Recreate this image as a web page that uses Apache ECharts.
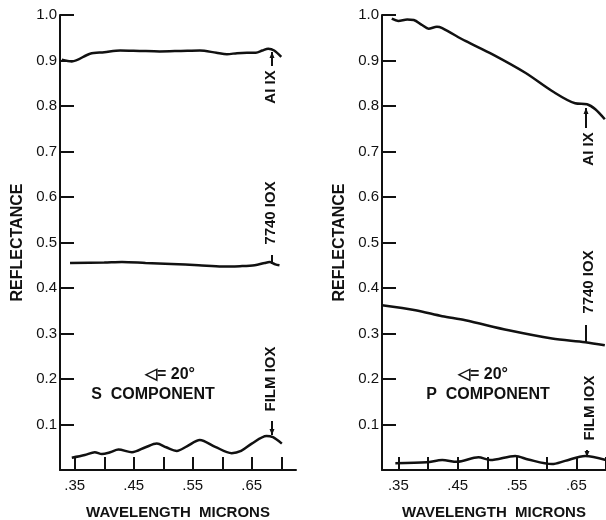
<!DOCTYPE html>
<html>
<head>
<meta charset="utf-8">
<script src="https://cdn.jsdelivr.net/npm/echarts@6/dist/echarts.min.js"></script>
<style>
  html, body { margin: 0; padding: 0; background: #fff; }
  #chart { width: 606px; height: 520px; }
</style>
</head>
<body>
<div id="chart"></div>
<script>
// wavelength (microns), reflectance
const sAl = [[0.328, 0.902], [0.345, 0.898], [0.376, 0.915], [0.40, 0.918], [0.427, 0.922], [0.46, 0.921],
  [0.494, 0.920], [0.53, 0.921], [0.562, 0.922], [0.59, 0.917], [0.608, 0.914], [0.625, 0.916],
  [0.642, 0.917], [0.657, 0.917], [0.668, 0.922], [0.678, 0.926], [0.688, 0.922], [0.70, 0.908]];
const sGlass = [[0.342, 0.455], [0.40, 0.456], [0.43, 0.457], [0.47, 0.455], [0.514, 0.453], [0.56, 0.450],
  [0.60, 0.447], [0.63, 0.448], [0.655, 0.450], [0.672, 0.455], [0.68, 0.457], [0.69, 0.452], [0.697, 0.450]];
const sFilm = [[0.345, 0.027], [0.367, 0.033], [0.384, 0.039], [0.396, 0.035], [0.41, 0.039], [0.424, 0.045],
  [0.447, 0.039], [0.47, 0.050], [0.489, 0.058], [0.505, 0.050], [0.523, 0.042], [0.54, 0.052],
  [0.562, 0.066], [0.588, 0.051], [0.616, 0.037], [0.632, 0.042], [0.650, 0.058], [0.675, 0.075],
  [0.686, 0.072], [0.701, 0.058]];

const pAl = [[0.339, 0.992], [0.35, 0.987], [0.365, 0.990], [0.376, 0.989], [0.39, 0.978], [0.401, 0.970],
  [0.415, 0.974], [0.424, 0.971], [0.463, 0.943], [0.508, 0.914], [0.564, 0.873], [0.609, 0.833],
  [0.648, 0.806], [0.668, 0.804], [0.682, 0.793], [0.698, 0.771]];
const pGlass = [[0.3226, 0.362], [0.379, 0.351], [0.424, 0.338], [0.463, 0.329], [0.536, 0.307],
  [0.609, 0.289], [0.665, 0.281], [0.698, 0.274]];
const pFilm = [[0.345, 0.015], [0.398, 0.017], [0.424, 0.022], [0.449, 0.018], [0.485, 0.028], [0.505, 0.022],
  [0.547, 0.031], [0.569, 0.023], [0.609, 0.013], [0.631, 0.020], [0.665, 0.031], [0.70, 0.022]];

const xTicks = [0.35, 0.40, 0.45, 0.50, 0.55, 0.60, 0.65, 0.70];
const xLabels = [0.35, 0.45, 0.55, 0.65];
const yTicks = [0.1, 0.2, 0.3, 0.4, 0.5, 0.6, 0.7, 0.8, 0.9, 1.0];

const ink = '#111';
const font = 'Liberation Sans';

const chart = echarts.init(document.getElementById('chart'));

function xAxis(gridIndex, min, max) {
  return {
    type: 'value', gridIndex, min, max,
    name: 'WAVELENGTH  MICRONS', nameLocation: 'middle', nameGap: 35,
    nameTextStyle: { color: ink, fontFamily: font, fontSize: 15, fontWeight: 'bold' },
    splitLine: { show: false },
    axisLine: { lineStyle: { color: ink, width: 2 } },
    axisTick: { customValues: xTicks, inside: true, length: 13, lineStyle: { color: ink, width: 2 } },
    axisLabel: {
      customValues: xLabels, color: ink, fontFamily: font, fontSize: 15, margin: 8,
      formatter: v => '.' + Math.round(v * 100),
    },
  };
}

function yAxis(gridIndex) {
  return {
    type: 'value', gridIndex, min: 0, max: 1.0,
    name: 'REFLECTANCE', nameLocation: 'middle', nameGap: 34,
    nameTextStyle: { color: ink, fontFamily: font, fontSize: 16, fontWeight: 'bold' },
    splitLine: { show: false },
    axisLine: { lineStyle: { color: ink, width: 2 } },
    axisTick: { customValues: yTicks, inside: true, length: 14, lineStyle: { color: ink, width: 2 } },
    axisLabel: {
      customValues: yTicks, color: ink, fontFamily: font, fontSize: 15, margin: 3,
      formatter: v => v.toFixed(1),
    },
  };
}

function curve(data, idx) {
  return {
    type: 'line', data, xAxisIndex: idx, yAxisIndex: idx,
    showSymbol: false, smooth: 0.3,
    lineStyle: { color: ink, width: 2.5 },
  };
}

// rotated curve labels with leader lines
function vText(text, x, y) {
  return {
    type: 'text', x, y, rotation: Math.PI / 2,
    style: { text, fill: ink, font: 'bold 15px ' + font, align: 'center', verticalAlign: 'middle' },
  };
}
function leader(x, y1, y2, arrow) {
  const els = [{ type: 'line', shape: { x1: x, y1, x2: x, y2 }, style: { stroke: ink, lineWidth: 2 } }];
  if (arrow) {
    const d = y2 < y1 ? 1 : -1;
    els.push({ type: 'polygon', shape: { points: [[x, y2], [x - 2.5, y2 + 6 * d], [x + 2.5, y2 + 6 * d]] }, style: { fill: ink } });
  }
  return els;
}
function plainText(text, x, y, size) {
  return {
    type: 'text', x, y,
    style: { text, fill: ink, font: 'bold ' + size + 'px ' + font, align: 'center', verticalAlign: 'middle' },
  };
}

const graphics = [
  vText('AI IX', 271, 87), ...leader(272, 66, 52, true),
  vText('7740 IOX', 271, 213), ...leader(272, 255, 264, false),
  vText('FILM IOX', 271, 379), ...leader(272, 421, 435, true),
  vText('AI IX', 589, 149), ...leader(586, 128, 108, true),
  vText('7740 IOX', 589, 282), ...leader(586, 325, 342, false),
  vText('FILM IOX', 590, 408), ...leader(587, 450, 457, true),
  plainText('\u25C1= 20\u00B0', 170, 375, 16),
  plainText('S  COMPONENT', 153, 395, 16),
  plainText('\u25C1= 20\u00B0', 483, 375, 16),
  plainText('P  COMPONENT', 488, 395, 16),
];

chart.setOption({
  backgroundColor: '#fff',
  animation: false,
  grid: [
    { left: 60, top: 15, width: 236, bottom: 50, outerBoundsMode: 'none' },
    { left: 382, top: 15, width: 224, bottom: 50, outerBoundsMode: 'none' },
  ],
  xAxis: [xAxis(0, 0.325, 0.725), xAxis(1, 0.3225, 0.70)],
  yAxis: [yAxis(0), yAxis(1)],
  series: [
    curve(sAl, 0), curve(sGlass, 0), curve(sFilm, 0),
    curve(pAl, 1), curve(pGlass, 1), curve(pFilm, 1),
  ],
  graphic: graphics,
});
</script>
</body>
</html>
